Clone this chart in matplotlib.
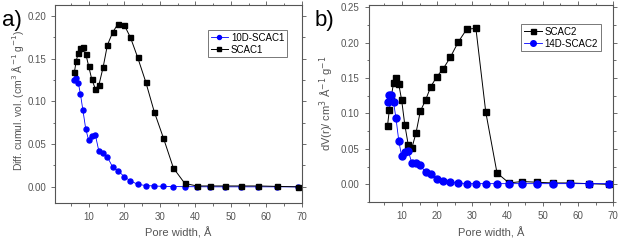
import matplotlib.pyplot as plt
from matplotlib.ticker import MultipleLocator

plt.rcParams['font.family'] = ['Liberation Sans', 'DejaVu Sans']

# pore width grid (Angstrom)
pore = [5.9, 6.4, 7.0, 7.6, 8.3, 9.1, 9.9, 10.8, 11.8, 12.8, 14.0, 15.2, 16.7, 18.2,
        19.9, 21.7, 23.7, 26.0, 28.4, 31.0, 33.8, 37.0, 40.4, 44.1, 48.3, 52.8,
        57.6, 63.0, 68.8]

# panel a
scac1 = [0.134, 0.147, 0.157, 0.163, 0.164, 0.156, 0.142, 0.126, 0.115, 0.119, 0.140,
         0.166, 0.181, 0.191, 0.190, 0.175, 0.152, 0.123, 0.088, 0.057, 0.022, 0.004,
         0.001, 0.001, 0.001, 0.001, 0.001, 0.0005, 0.0]
d10_scac1 = [0.125, 0.127, 0.122, 0.109, 0.090, 0.068, 0.055, 0.060, 0.061, 0.042, 0.040,
             0.035, 0.023, 0.019, 0.012, 0.007, 0.003, 0.0015, 0.001, 0.0005, 0.0003,
             0.0002, 0.0001, 0.0, 0.0, 0.0, 0.0, 0.0, 0.0]

# panel b
scac2 = [0.083, 0.105, 0.125, 0.143, 0.150, 0.141, 0.119, 0.084, 0.055, 0.051, 0.073,
         0.103, 0.119, 0.138, 0.152, 0.163, 0.179, 0.201, 0.219, 0.220, 0.102, 0.016,
         0.002, 0.004, 0.003, 0.002, 0.002, 0.001, 0.0]
d14_scac2 = [0.116, 0.126, 0.126, 0.116, 0.093, 0.061, 0.040, 0.046, 0.047, 0.030, 0.030,
             0.027, 0.017, 0.015, 0.008, 0.005, 0.003, 0.002, 0.001, 0.001, 0.001, 0.001,
             0.001, 0.001, 0.001, 0.001, 0.001, 0.001, 0.001]

grey = '#555555'
fig = plt.figure(figsize=(6.2, 2.4), dpi=100)
ax1 = fig.add_axes([0.089, 0.154, 0.398, 0.825])
ax2 = fig.add_axes([0.595, 0.158, 0.394, 0.821])

# panel a: blue first, black on top
ax1.plot(pore, d10_scac1, '-o', color='#0000ff', lw=0.6, ms=3.6, mec='#0000ff',
         label='10D-SCAC1')
ax1.plot(pore, scac1, '-s', color='black', lw=0.7, ms=3.6, label='SCAC1')
ax1.set_xlim(0.5, 70)
ax1.set_ylim(-0.019, 0.213)
ax1.yaxis.set_major_locator(MultipleLocator(0.05))
ax1.set_ylabel('Diff. cumul. vol. (cm$^3$ Å$^{-1}$ g$^{-1}$)', color=grey, fontsize=7.5)
ax1.yaxis.set_label_coords(-0.12, 0.52)

# panel b: black first, blue on top
ax2.plot(pore, scac2, '-s', color='black', lw=0.7, ms=4.5, label='SCAC2')
ax2.plot(pore, d14_scac2, '-o', color='#0000ff', lw=0.6, ms=5, mec='#0000ff',
         label='14D-SCAC2')
ax2.set_xlim(0.6, 70)
ax2.set_ylim(-0.025, 0.253)
ax2.yaxis.set_major_locator(MultipleLocator(0.05))
ax2.set_ylabel('dV(r)/ cm$^3$ Å$^{-1}$ g$^{-1}$', color=grey, fontsize=8)
ax2.yaxis.set_label_coords(-0.135, 0.5)

for ax, anchor in ((ax1, (0.96, 0.9)), (ax2, (0.97, 0.93))):
    ax.xaxis.set_major_locator(MultipleLocator(10))
    ax.xaxis.set_minor_locator(MultipleLocator(5))
    ax.yaxis.set_minor_locator(MultipleLocator(0.025))
    ax.yaxis.set_major_formatter(plt.FormatStrFormatter('%.2f'))
    ax.tick_params(which='both', direction='out', top=True, right=True,
                   labelsize=7, labelcolor=grey, color=grey, width=0.6)
    ax.tick_params(which='major', length=3)
    ax.tick_params(which='minor', length=1.8)
    for s in ax.spines.values():
        s.set_color(grey)
        s.set_linewidth(0.8)
    ax.set_xlabel('Pore width, Å', color=grey, fontsize=8)
    leg = ax.legend(loc='upper right', bbox_to_anchor=anchor, fontsize=7,
                    frameon=True, fancybox=False, borderpad=0.3, handlelength=1.8,
                    handletextpad=0.3, labelspacing=0.2, markerscale=0.8)
    leg.get_frame().set_edgecolor(grey)
    leg.get_frame().set_linewidth(0.7)

fig.text(0.003, 0.89, 'a)', fontsize=16, color='black')
fig.text(0.508, 0.89, 'b)', fontsize=16, color='black')

fig.savefig('out.png', dpi=100)
